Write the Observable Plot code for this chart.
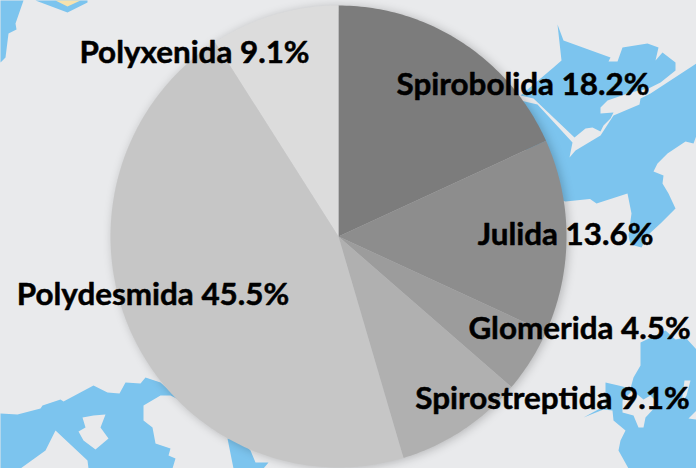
<!DOCTYPE html>
<html><head><meta charset="utf-8">
<script src="https://cdn.jsdelivr.net/npm/d3@7"></script>
<script src="https://cdn.jsdelivr.net/npm/@observablehq/plot@0.6"></script>
<style>html,body{margin:0;padding:0;background:#e9eaec}svg{display:block}</style>
</head><body><div id="c"></div>
<script>
const orders = ["Spirobolida","Julida","Glomerida","Spirostreptida","Polydesmida","Polyxenida"];
const shares = [18.2,13.6,4.5,9.1,45.5,9.1];
const fills = ["#7c7c7c","#8d8d8d","#9c9c9c","#b0b0b0","#c6c6c6","#dcdcdc"];
const labelX = [522.5,565,579,552,152.5,194];
const labelY = [84,234,328,398,294,52];
const water = [
 [[557,24],[563,40],[610,57],[608,61],[617,61],[622,47],[647,43],[658,47],[655,60],[662,52],[675,62],[675,70],[660,82],[648,88],[630,92],[607,100],[600,107],[600,113],[613,112],[610,118],[603,125],[600,131],[592,127],[585,128],[574,137],[533,98],[520,95],[553,67],[561,60]],
 [[696,63],[696,135],[693,143],[685,141],[667,153],[657,163],[653,171],[663,175],[662,183],[668,193],[675,208],[660,223],[648,234],[641,247],[630,244],[628,235],[631,213],[627,193],[596,203],[586,196],[594,198],[565,201],[530,190],[520,100],[537,104],[572,142],[569,157],[575,150],[600,135],[613,115],[639,104],[640,98],[650,93]],
 [[665,330],[675,339],[685,337],[696,349],[696,468],[628,468],[618,450],[620,440],[625,430],[613,420],[612,410],[603,409],[583,417],[605,405],[605,382],[618,385],[630,388],[633,377],[640,365],[640,342]],
 [[0,413],[17,414],[40,408],[42,405],[60,399],[63,401],[93,385],[107,392],[119,393],[125,382],[140,383],[145,377],[160,382],[180,400],[170,395],[160,395],[143,405],[143,420],[152,427],[155,443],[170,448],[168,455],[175,458],[172,468],[88,468],[87,460],[55,430],[45,450],[20,468],[0,468]],
 [[227,438],[233,468],[263,468],[268,462],[255,462],[250,450],[240,440]],
 [[0,0],[23,0],[15,23],[16,29],[8,33],[5,57],[0,62]],
 [[35,0],[67,12],[87,2],[87,0]]
];
const land = [
 [[82,417],[93,415],[105,414],[100,427],[108,438],[95,449],[83,440],[78,431],[85,427]],
 [[622,412],[633,415],[638,427],[643,427],[645,417],[658,403],[650,395],[643,399],[632,390],[622,400]],
 [[684,380],[690,380],[686,395],[681,403]],
 [[688,418],[696,419],[696,410]]
];
const beach = [[[55,0],[67,6],[80,0]]];

const toRows = (shapes) => shapes.flatMap((s,i)=>s.map(([x,y])=>({x,y,z:i})));
const cx=338, cy=236, rx=228, ry=231;
const arcs = d3.pie().sort(null).value(d=>d)(shares);
const wedges = arcs.flatMap((a,i)=>{
  const n=Math.ceil((a.endAngle-a.startAngle)*60);
  const pts=[{x:cx,y:cy,z:i}];
  for(let k=0;k<=n;k++){const t=a.startAngle+(a.endAngle-a.startAngle)*k/n;
    pts.push({x:cx+rx*Math.sin(t),y:cy-ry*Math.cos(t),z:i});}
  pts.push({x:cx,y:cy,z:i});
  return pts;
});
const labels = orders.map((o,i)=>({text:`${o} ${shares[i].toFixed(1)}%`,x:labelX[i],y:labelY[i]}));
const shadow = (index,scales,values,dims,ctx,next)=>{
  const g=next(index,scales,values,dims,ctx);
  g.style.filter="drop-shadow(2px 1px 5px rgba(0,0,0,0.22))";
  return g;
};
const chart = Plot.plot({
  width:696,height:468,margin:0,
  style:{background:"#e9eaec",overflow:"hidden"},
  x:{domain:[0,696],axis:null},
  y:{domain:[468,0],axis:null},
  marks:[
    Plot.line(toRows(water),{x:"x",y:"y",z:"z",fill:"#7cc4ee",stroke:null,curve:"linear-closed"}),
    Plot.line(toRows(land),{x:"x",y:"y",z:"z",fill:"#e9eaec",stroke:null,curve:"linear-closed"}),
    Plot.line(toRows(beach),{x:"x",y:"y",z:"z",fill:"#f7e2ae",stroke:null,curve:"linear-closed"}),
    Plot.line(wedges,{x:"x",y:"y",z:"z",fill:d=>fills[d.z],stroke:null,render:shadow}),
    Plot.text(labels,{x:"x",y:"y",text:"text",fontFamily:"Lato, sans-serif",fontWeight:700,fontSize:31.4,fill:"#000",stroke:"#000",strokeWidth:0.5,textAnchor:"middle"})
  ]
});
document.getElementById("c").append(chart);
</script></body></html>
